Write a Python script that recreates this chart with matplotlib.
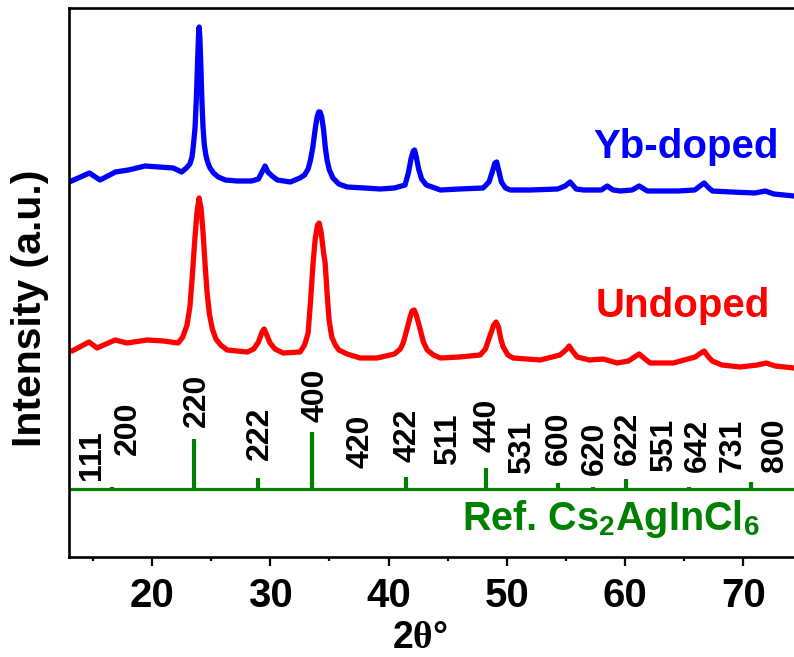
import matplotlib
matplotlib.use("Agg")
import matplotlib.pyplot as plt
from matplotlib import font_manager
from matplotlib.ticker import MultipleLocator

# XRD patterns, 2theta (deg) vs intensity (a.u., stacked with offsets)
yb_tt = [13.0, 14.7, 15.6, 16.9, 18.0, 19.4, 20.6, 21.8, 22.5, 22.9, 23.2, 23.38,
         23.5, 23.64, 23.75, 23.85, 23.93, 23.98, 24.05, 24.13, 24.22, 24.31,
         24.42, 24.55, 24.7, 24.9, 25.2, 25.6, 26.2, 27.2, 28.4, 29.0, 29.3,
         29.56, 29.8, 30.15, 30.6, 31.7, 32.5, 32.9, 33.2, 33.4, 33.6, 33.8,
         33.96, 34.1, 34.21, 34.35, 34.5, 34.65, 34.8, 35.0, 35.3, 35.8, 36.5,
         38.0, 39.3, 40.5, 41.4, 41.7, 41.9, 42.1, 42.2, 42.35, 42.55, 42.8,
         43.2, 44.4, 46.0, 48.0, 48.5, 48.8, 49.0, 49.15, 49.35, 49.55, 49.9,
         50.3, 52.0, 54.3, 54.94, 55.36, 55.87, 56.5, 58.0, 58.5, 59.0, 59.6,
         60.6, 61.2, 61.9, 63.0, 64.5, 65.9, 66.35, 66.7, 67.1, 67.4, 69.0,
         71.0, 71.86, 72.6, 74.3, 75.0]
yb_int = [375, 384, 377, 385, 387, 391, 390, 389, 385, 389, 393, 400,
          412, 430, 460, 495, 522, 530, 518, 490, 455, 430,
          412, 402, 395, 389, 384, 380, 377, 376, 376, 378, 385,
          391, 385, 381, 377, 375, 379, 382, 388, 397, 410, 428,
          440, 445, 445, 440, 428, 410, 397, 387, 379, 373, 370,
          369, 368, 369, 372, 385, 398, 406, 407, 400, 388, 378,
          372, 367, 368, 369, 375, 386, 394, 395, 385, 375, 369,
          367, 367, 368, 371, 375, 368, 367, 367, 371, 367, 366,
          367, 371, 366, 366, 366, 367, 371, 374, 369, 366, 365,
          364, 366, 363, 361, 361]

und_tt = [13.0, 13.23, 14.67, 15.35, 16.87, 17.88, 19.58, 21.0, 22.2, 22.6,
          22.96, 23.2, 23.4, 23.6, 23.8, 23.98, 24.15, 24.31, 24.5, 24.65,
          24.85, 25.1, 25.4, 25.8, 26.35, 28.04, 28.6, 29.0, 29.3, 29.48, 29.7,
          29.98, 30.4, 31.08, 32.52, 32.9, 33.2, 33.4, 33.62, 33.8, 34.0, 34.13,
          34.3, 34.5, 34.64, 34.8, 34.97, 35.2, 35.5, 35.8, 36.5, 37.6, 39.04,
          40.5, 41.0, 41.24, 41.5, 41.83, 42.0, 42.17, 42.35, 42.67, 42.95,
          43.27, 43.8, 44.4, 46.0, 47.75, 48.2, 48.6, 48.9, 49.1, 49.3, 49.5,
          49.7, 50.1, 50.54, 52.83, 54.5, 55.0, 55.28, 55.5, 55.96, 57.0,
          58.16, 59.34, 60.3, 60.8, 61.2, 61.6, 62.13, 64.08, 65.94, 66.3,
          66.7, 67.0, 67.38, 68.2, 69.75, 71.2, 71.95, 72.7, 74.31, 75.0]
und_int = [206, 206, 215, 209, 217, 214, 217, 216, 214, 220,
           232, 250, 280, 315, 345, 359, 348, 325, 290, 265,
           243, 228, 218, 212, 207, 205, 208, 215, 225, 228, 222,
           214, 208, 204, 205, 212, 224, 255, 294, 318, 332, 334,
           325, 305, 294, 265, 237, 220, 212, 207, 203, 199, 199,
           203, 208, 214, 225, 240, 246, 247, 242, 228, 215,
           207, 202, 199, 200, 202, 208, 222, 232, 235, 230, 218,
           210, 202, 199, 197, 202, 207, 211, 207, 200, 197,
           198, 194, 196, 200, 203, 199, 194, 194, 200, 203,
           206, 201, 196, 192, 190, 192, 194, 191, 189, 189]

# Reference Cs2AgInCl6 pattern
ref_hkl = ["111", "200", "220", "222", "400", "420", "422", "511", "440",
           "531", "600", "620", "622", "551", "642", "731", "800"]
ref_tt = [14.42, 16.6, 23.55, 28.97, 33.54, 37.7, 41.5, 45.0, 48.26,
          50.3, 54.3, 57.3, 60.1, 63.3, 65.4, 70.7, 72.7]
ref_int = [1, 2, 50, 11, 57, 1, 12, 0.5, 21, 0.5, 6, 2, 10, 0.5, 2, 7, 0.5]
ref_base = 68

# hkl label anchors (2theta, bottom of the rotated text)
lab_tt = [14.92, 17.97, 23.81, 29.14, 33.79, 37.6, 41.57, 45.04, 48.34,
          51.3, 54.43, 57.48, 60.27, 63.32, 66.19, 69.07, 72.7]
lab_y = [77, 102, 130, 97, 135, 89, 95, 92, 105, 83, 92, 82, 92, 85, 85, 85, 85]

# condensed bold face for the hkl labels if one is installed
narrow_bold = any(f.name == "Liberation Sans Narrow" and f.weight in (700, "bold")
                  for f in font_manager.fontManager.ttflist)
if narrow_bold:
    hkl_font, hkl_size = "Liberation Sans Narrow", 27
else:
    hkl_font, hkl_size = "Liberation Sans", 23

plt.rcParams["font.family"] = "Liberation Sans"
plt.rcParams["font.weight"] = "bold"
plt.rcParams["mathtext.fontset"] = "custom"
plt.rcParams["mathtext.rm"] = "Liberation Sans:bold"
plt.rcParams["mathtext.it"] = "Liberation Serif"
plt.rcParams["mathtext.bf"] = "Liberation Sans:bold"

fig = plt.figure(figsize=(7.94, 6.57), dpi=100)
ax = fig.add_axes([69.3 / 794, 100 / 657, 733 / 794, 549 / 657])

blue = "#0000FF"
red = "#FF0000"
green = "#008000"

ax.plot(yb_tt, yb_int, color=blue, lw=3.8, solid_joinstyle="round")
ax.plot(und_tt, und_int, color=red, lw=3.8, solid_joinstyle="round")

# reference sticks on their own baseline
ax.axhline(ref_base, color=green, lw=2.3)
ax.vlines(ref_tt, ref_base, [ref_base + h for h in ref_int], color=green, lw=3)
for t, y, s in zip(lab_tt, lab_y, ref_hkl):
    ax.text(t, y, s, rotation=90, ha="center", va="bottom",
            family=hkl_font, fontsize=hkl_size, fontweight="bold")

ax.text(57.3, 399, "Yb-doped", color=blue, fontsize=29, fontweight="bold",
        ha="left", va="baseline")
ax.text(57.48, 240, "Undoped", color=red, fontsize=29, fontweight="bold",
        ha="left", va="baseline")
ax.text(46.2, 27, r"Ref. Cs$_{2}$AgInCl$_{6}$", color=green, fontsize=28.5,
        fontweight="bold", ha="left", va="baseline")

ax.set_xlim(13, 75)
ax.set_ylim(0, 549)

ax.xaxis.set_major_locator(MultipleLocator(10))
ax.xaxis.set_minor_locator(MultipleLocator(5))
ax.tick_params(axis="x", which="major", direction="out", length=6.5, width=1.6,
               labelsize=29, pad=8)
ax.tick_params(axis="x", which="minor", direction="out", length=3, width=1.6)
ax.set_yticks([])
for lbl in ax.get_xticklabels():
    lbl.set_fontweight("bold")

for side in ["left", "top", "bottom"]:
    ax.spines[side].set_linewidth(1.9)
ax.spines["right"].set_visible(False)

ax.set_ylabel("Intensity (a.u.)", fontsize=29.5, fontweight="bold", va="center")
ax.yaxis.set_label_coords(-0.0536, 0.4536)
ax.set_xlabel(r"2$\theta$°", fontsize=27, fontweight="bold", va="center")
ax.xaxis.set_label_coords(0.478, -0.148)

fig.savefig("out.png", dpi=100)
